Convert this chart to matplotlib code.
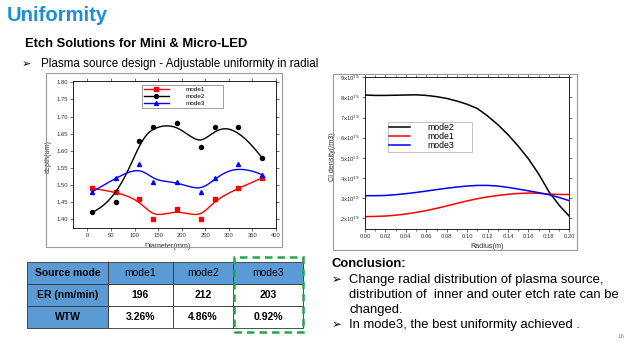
import numpy as np
import matplotlib.pyplot as plt
from matplotlib.patches import Rectangle
from matplotlib.ticker import MultipleLocator, FuncFormatter

plt.rcParams['font.family'] = ['Liberation Sans', 'DejaVu Sans']

# ---- left chart: etch depth vs diameter ----
diam = [10, 60, 110, 140, 190, 240, 270, 320, 370]
depth_m1 = [1.49, 1.48, 1.46, 1.40, 1.43, 1.40, 1.46, 1.49, 1.52]
depth_m2 = [1.42, 1.45, 1.63, 1.67, 1.68, 1.61, 1.67, 1.67, 1.58]
depth_m3 = [1.48, 1.52, 1.56, 1.51, 1.51, 1.48, 1.52, 1.56, 1.53]

# ---- right chart: Cl density vs radius ----
radius = [0.00, 0.01, 0.02, 0.03, 0.04, 0.05, 0.06, 0.07, 0.08, 0.09, 0.10,
          0.11, 0.12, 0.13, 0.14, 0.15, 0.16, 0.17, 0.18, 0.19, 0.20]
cl_m2 = [8.12, 8.10, 8.10, 8.11, 8.12, 8.13, 8.10, 8.04, 7.95, 7.82, 7.66,
         7.45, 7.08, 6.65, 6.15, 5.58, 4.95, 4.20, 3.32, 2.65, 2.10]
cl_m1 = [2.08, 2.09, 2.11, 2.15, 2.21, 2.29, 2.38, 2.49, 2.61, 2.74, 2.86,
         2.97, 3.06, 3.13, 3.19, 3.23, 3.25, 3.24, 3.20, 3.18, 3.18]
cl_m3 = [3.12, 3.12, 3.13, 3.17, 3.22, 3.28, 3.35, 3.42, 3.49, 3.55, 3.60,
         3.63, 3.63, 3.60, 3.53, 3.45, 3.36, 3.27, 3.17, 3.03, 2.87]

# ---- table ----
col_labels = ['Source mode', 'mode1', 'mode2', 'mode3']
row_er = ['ER (nm/min)', '196', '212', '203']
row_wtw = ['WTW', '3.26%', '4.86%', '0.92%']

W, H = 630, 346
BLUE = '#1E8ED8'
TBLUE = '#5B9BD5'


def fx(x):
    return x / W


def fy(y):
    return 1 - y / H


def box(x0, y0, x1, y1):
    return [fx(x0), fy(y1), (x1 - x0) / W, (y1 - y0) / H]


def bspline(px, py, k=3, n=400):
    # clamped uniform B-spline using the data points as control points (Origin style)
    px = np.asarray(px, float); py = np.asarray(py, float)
    m = len(px)
    t = np.concatenate([np.zeros(k), np.arange(m - k + 1), np.full(k, m - k)]).astype(float)
    u = np.linspace(0, m - k, n)
    u[-1] -= 1e-9
    B = np.array([(t[i] <= u) & (u < t[i + 1]) for i in range(len(t) - 1)], float)
    for d in range(1, k + 1):
        Bn = np.zeros((len(t) - 1 - d, len(u)))
        for i in range(len(t) - 1 - d):
            a = t[i + d] - t[i]
            b = t[i + d + 1] - t[i + 1]
            left = (u - t[i]) / a * B[i] if a > 0 else 0
            right = (t[i + d + 1] - u) / b * B[i + 1] if b > 0 else 0
            Bn[i] = left + right
        B = Bn
    return B.T @ px, B.T @ py


fig = plt.figure(figsize=(6.3, 3.46), dpi=100)

# slide texts
fig.text(fx(7), fy(20.7), 'Uniformity', color=BLUE, fontsize=14.6, weight='bold')
fig.text(fx(25), fy(46.7), 'Etch Solutions for Mini & Micro-LED', fontsize=9.4, weight='bold')
fig.text(fx(22), fy(66.7), '\u27a2', fontsize=8, family=['DejaVu Sans'])
fig.text(fx(40.7), fy(66.7), 'Plasma source design - Adjustable uniformity in radial', fontsize=8.4)

# image frames
for (x0, y0, x1, y1) in [(46, 73, 282, 247), (333, 74, 577, 250)]:
    fig.add_artist(Rectangle((fx(x0), fy(y1)), (x1 - x0) / W, (y1 - y0) / H,
                             transform=fig.transFigure, fill=False, ec='#9a9a9a', lw=0.8))

tick_kw = dict(labelsize=4.2, length=2, width=0.5, pad=1.5, colors='#333333')

# ---- left axes ----
ax1 = fig.add_axes(box(73.3, 80.7, 276, 228))
for y, c, mk, lab in [(depth_m1, 'red', 's', 'mode1'),
                      (depth_m2, 'black', 'o', 'mode2'),
                      (depth_m3, 'blue', '^', 'mode3')]:
    sx, sy = bspline(diam, y)
    ax1.plot(sx, sy, color=c, lw=1.0)
    ax1.plot(diam, y, ls='none', marker=mk, color=c, ms=2.9)
    ax1.plot([], [], color=c, lw=1.0, marker=mk, ms=2.8, label=lab)
ax1.set_xlim(-30, 400)
ax1.set_ylim(1.374, 1.805)
ax1.xaxis.set_major_locator(MultipleLocator(50))
ax1.yaxis.set_major_locator(MultipleLocator(0.05))
ax1.yaxis.set_major_formatter(FuncFormatter(lambda v, p: f'{v:.2f}'))
ax1.tick_params(**tick_kw)
ax1.tick_params(top=True, right=True, direction='out')
ax1.set_xlabel('Diameter(mm)', fontsize=5.2, color='#333333')
ax1.set_ylabel('depth(um)', fontsize=5.2, color='#333333')
ax1.xaxis.set_label_coords(0.465, -0.104)
ax1.yaxis.set_label_coords(-0.105, 0.484)
for s in ax1.spines.values():
    s.set_linewidth(0.6)
ax1.legend(loc='upper left', bbox_to_anchor=(0.337, 0.783, 0.402, 0.188), mode='expand',
           fontsize=4.6, handlelength=4, handletextpad=2.5, borderaxespad=0,
           fancybox=False, edgecolor='#777777', framealpha=1, labelspacing=0.25,
           borderpad=0.3).get_frame().set_linewidth(0.5)

# ---- right axes ----
ax2 = fig.add_axes(box(365, 77.3, 569.3, 229.3))
ax2.plot(radius, cl_m2, color='black', lw=1.1, label='mode2')
ax2.plot(radius, cl_m1, color='red', lw=1.1, label='mode1')
ax2.plot(radius, cl_m3, color='blue', lw=1.1, label='mode3')
ax2.set_xlim(0, 0.20)
ax2.set_ylim(1.45, 9.0)
ax2.xaxis.set_major_locator(MultipleLocator(0.02))
ax2.xaxis.set_minor_locator(MultipleLocator(0.01))
ax2.yaxis.set_major_locator(MultipleLocator(1))
ax2.xaxis.set_major_formatter(FuncFormatter(lambda v, p: f'{v:.2f}'))
ax2.yaxis.set_major_formatter(FuncFormatter(lambda v, p: f'{v:.0f}x10$^{{19}}$'))
ax2.tick_params(**tick_kw)
ax2.tick_params(which='minor', length=1.2, width=0.4)
ax2.tick_params(which='both', top=True, right=True, direction='out')
ax2.set_xlabel('Radius(m)', fontsize=5.2, color='#333333')
ax2.set_ylabel('Cl density(/m3)', fontsize=5.2, color='#333333')
ax2.xaxis.set_label_coords(0.596, -0.092)
ax2.yaxis.set_label_coords(-0.143, 0.478)
for s in ax2.spines.values():
    s.set_linewidth(0.6)
ax2.legend(loc='upper left', bbox_to_anchor=(0.113, 0.548, 0.411, 0.158), mode='expand',
           fontsize=6.3, handlelength=2.4, handletextpad=2.0, borderaxespad=0,
           fancybox=False, edgecolor='#aaaaaa', framealpha=1, labelspacing=0.0,
           borderpad=0.15).get_frame().set_linewidth(0.5)

# ---- table ----
axt = fig.add_axes(box(27, 262, 303, 328))
axt.axis('off')
tbl = axt.table(cellText=[col_labels, row_er, row_wtw], bbox=[0, 0, 1, 1],
                colWidths=[81, 65, 60, 70], cellLoc='center')
tbl.auto_set_font_size(False)
for (r, c), cell in tbl.get_celld().items():
    cell.set_linewidth(0.6)
    cell.set_edgecolor('#333333')
    txt = cell.get_text()
    txt.set_fontsize(7.5)
    if r == 0 or c == 0:
        cell.set_facecolor(TBLUE)
    if r > 0 or c == 0:
        txt.set_weight('bold')

fig.add_artist(Rectangle((fx(234), fy(332)), 69 / W, 75 / H, transform=fig.transFigure,
                         fill=False, ec='#22A845', lw=1.8, ls=(0, (3, 2))))

# conclusion
fig.text(fx(331.7), fy(267.3), 'Conclusion:', fontsize=9.4, weight='bold')
lines = [('\u27a2', 'Change radial distribution of plasma source,', 282.7),
         ('', 'distribution of  inner and outer etch rate can be', 297.7),
         ('', 'changed.', 313.3),
         ('\u27a2', 'In mode3, the best uniformity achieved .', 328.3)]
for arrow, s, yb in lines:
    if arrow:
        fig.text(fx(332), fy(yb), arrow, fontsize=8.5, family=['DejaVu Sans'])
    fig.text(fx(349.3), fy(yb), s, fontsize=9.4)
fig.text(fx(617), fy(338), '16', fontsize=4.5, color='#888888')

fig.savefig('out.png', dpi=100)
